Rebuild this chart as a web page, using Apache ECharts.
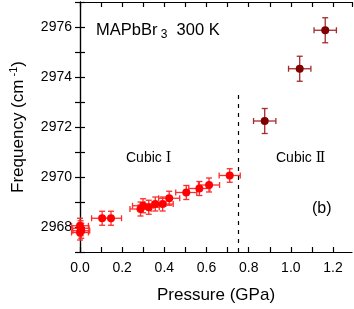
<!DOCTYPE html>
<html><head><meta charset="utf-8">
<script src="https://cdn.jsdelivr.net/npm/echarts@6/dist/echarts.min.js"></script>
<style>html,body{margin:0;padding:0;background:#fff}#c{width:354px;height:309px}</style>
</head><body><div id="c"></div>
<script>
// Cubic I phase (red)
const p1 = [0.0, 0.003, 0.006, 0.0, 0.105, 0.147, 0.287, 0.299, 0.326, 0.357, 0.392, 0.423, 0.504, 0.566, 0.612, 0.71];
const f1 = [2968.05, 2967.95, 2967.85, 2967.78, 2968.35, 2968.35, 2968.72, 2968.85, 2968.79, 2968.92, 2968.92, 2969.15, 2969.38, 2969.54, 2969.68, 2970.06];
const ex1 = [0.04, 0.04, 0.04, 0.04, 0.05, 0.05, 0.05, 0.05, 0.05, 0.05, 0.05, 0.05, 0.05, 0.05, 0.05, 0.05];
const ey1 = [0.3, 0.3, 0.3, 0.3, 0.28, 0.28, 0.28, 0.28, 0.28, 0.28, 0.28, 0.28, 0.28, 0.28, 0.28, 0.27];
// Cubic II phase (dark red)
const p2 = [0.876, 1.042, 1.163];
const f2 = [2972.24, 2974.33, 2975.87];
const ex2 = [0.053, 0.053, 0.053];
const ey2 = [0.5, 0.5, 0.5];
const phaseBoundary = 0.75;
const yTickLabels = [2968, 2970, 2972, 2974, 2976];
const xTickLabels = [0.0, 0.2, 0.4, 0.6, 0.8, 1.0, 1.2];

const FONT = 'Liberation Sans, Arial, Helvetica, sans-serif';
const SERIF = 'DejaVu Serif, Liberation Serif, serif';
const chart = echarts.init(document.getElementById('c'), null, {renderer: 'canvas'});

function errData(p, f, ex, ey) { return p.map((x, i) => [x, f[i], ex[i], ey[i]]); }
function errRender(color) {
  return function (params, api) {
    const x = api.value(0), y = api.value(1), ex = api.value(2), ey = api.value(3);
    const c = api.coord([x, y]);
    const l = api.coord([x - ex, y]), r = api.coord([x + ex, y]);
    const t = api.coord([x, y + ey]), b = api.coord([x, y - ey]);
    const cap = 3;
    const st = {stroke: color, lineWidth: 1.3};
    return {type: 'group', children: [
      {type: 'line', shape: {x1: l[0], y1: c[1], x2: r[0], y2: c[1]}, style: st},
      {type: 'line', shape: {x1: l[0], y1: c[1] - cap, x2: l[0], y2: c[1] + cap}, style: st},
      {type: 'line', shape: {x1: r[0], y1: c[1] - cap, x2: r[0], y2: c[1] + cap}, style: st},
      {type: 'line', shape: {x1: c[0], y1: t[1], x2: c[0], y2: b[1]}, style: st},
      {type: 'line', shape: {x1: c[0] - cap, y1: t[1], x2: c[0] + cap, y2: t[1]}, style: st},
      {type: 'line', shape: {x1: c[0] - cap, y1: b[1], x2: c[0] + cap, y2: b[1]}, style: st}
    ]};
  };
}
const axisLine = {show: true, lineStyle: {color: '#000', width: 1.2}};
const tick = {show: true, inside: true, length: 5, lineStyle: {color: '#000', width: 1.2}};
const xFmt = v => { const k = Math.round(v * 10); return (k % 2 === 0 && xTickLabels.indexOf(k / 10) >= 0) ? (k / 10).toFixed(1) : ''; };
const yFmt = v => yTickLabels.indexOf(Math.round(v)) >= 0 && Math.abs(v - Math.round(v)) < 1e-6 ? String(Math.round(v)) : '';

chart.setOption({
  animation: false,
  backgroundColor: '#fff',
  textStyle: {fontFamily: FONT},
  grid: {left: 75, right: 2, top: 2, bottom: 56},
  xAxis: [{
    type: 'value', min: 0, max: 1.29, interval: 0.1,
    axisLine: axisLine, axisTick: tick, splitLine: {show: false},
    axisLabel: {formatter: xFmt, color: '#000', fontSize: 14, fontFamily: FONT, margin: 9, showMaxLabel: false},
    name: 'Pressure (GPa)', nameLocation: 'middle', nameGap: 35,
    nameTextStyle: {color: '#000', fontSize: 17, fontFamily: FONT}
  }, {
    type: 'value', position: 'top', min: 0, max: 1.29, interval: 0.1,
    axisLine: axisLine, axisTick: tick, splitLine: {show: false}, axisLabel: {show: false}
  }],
  yAxis: [{
    type: 'value', min: 2967, max: 2977, interval: 1,
    axisLine: axisLine, axisTick: tick, splitLine: {show: false},
    axisLabel: {formatter: yFmt, color: '#000', fontSize: 14, fontFamily: FONT, margin: 8},
    name: '{a|Frequency (cm}{s| -1}{a|)}', nameLocation: 'middle', nameGap: 52,
    nameTextStyle: {color: '#000', fontSize: 17, fontFamily: FONT,
      rich: {a: {fontSize: 17, fontFamily: FONT, color: '#000'}, s: {fontSize: 11, fontFamily: FONT, color: '#000', verticalAlign: 'top', padding: [0, 0, 9, 0]}}}
  }, {
    type: 'value', position: 'right', min: 2967, max: 2977, interval: 1,
    axisLine: axisLine, axisTick: tick, splitLine: {show: false}, axisLabel: {show: false}
  }],
  series: [
    {type: 'custom', renderItem: errRender('#ff2a2a'), data: errData(p1, f1, ex1, ey1), z: 2, silent: true,
      encode: {x: 0, y: 1},
      markLine: {silent: true, symbol: ['none', 'none'], label: {show: false},
        lineStyle: {color: '#000', type: [4, 5], width: 1.2},
        data: [[{coord: [phaseBoundary, 2967]}, {coord: [phaseBoundary, 2973.4]}]]}},
    {type: 'custom', renderItem: errRender('#a52a2a'), data: errData(p2, f2, ex2, ey2), z: 2, silent: true, encode: {x: 0, y: 1}},
    {type: 'scatter', data: p1.map((x, i) => [x, f1[i]]), symbolSize: 8, itemStyle: {color: '#ff0000', opacity: 1}, z: 3},
    {type: 'scatter', data: p2.map((x, i) => [x, f2[i]]), symbolSize: 8, itemStyle: {color: '#800000', opacity: 1}, z: 3}
  ],
  graphic: [
    {type: 'text', left: 96, top: 22, style: {rich: {a: {fontSize: 16.5, fontFamily: FONT, fill: '#000'}, s: {fontSize: 12, fontFamily: FONT, fill: '#000', padding: [9, 0, 0, 0]}},
      text: '{a|MAPbBr}{s| 3}{a|  300 K}'}},
    {type: 'text', left: 126, top: 151, style: {rich: {a: {fontSize: 14, fontFamily: FONT, fill: '#000'}, r: {fontSize: 14, fontFamily: SERIF, fill: '#000'}}, text: '{a|Cubic }{r|Ⅰ}'}},
    {type: 'text', left: 276, top: 151, style: {rich: {a: {fontSize: 14, fontFamily: FONT, fill: '#000'}, r: {fontSize: 14, fontFamily: SERIF, fill: '#000'}}, text: '{a|Cubic }{r|Ⅱ}'}},
    {type: 'text', left: 312, top: 201, style: {text: '(b)', fontSize: 16, fontFamily: FONT, fill: '#000'}}
  ]
});
</script></body></html>
